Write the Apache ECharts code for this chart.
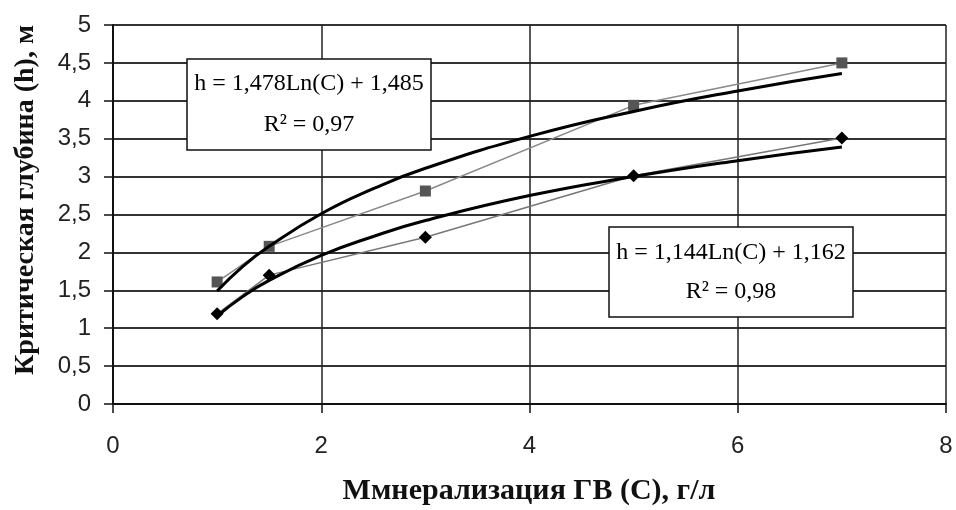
<!DOCTYPE html>
<html><head><meta charset="utf-8">
<script src="https://cdn.jsdelivr.net/npm/echarts@6/dist/echarts.min.js"></script>
<style>html,body{margin:0;padding:0;background:#fff}#c{width:956px;height:510px}</style>
</head><body><div id="c"></div>
<script>
// Measured data (C, g/l)
const xPoints = [1, 1.5, 3, 5, 7];
const depthSeriesA = [1.61, 2.08, 2.81, 3.94, 4.5];   // squares
const depthSeriesB = [1.19, 1.70, 2.20, 3.01, 3.51];  // diamonds
// Trend lines
const trendX = [1, 1.25, 1.5, 2, 2.5, 3, 4, 5, 6, 7];
const trendA = [1.49, 1.82, 2.08, 2.51, 2.84, 3.11, 3.53, 3.86, 4.13, 4.36];
const trendB = [1.16, 1.42, 1.63, 1.96, 2.21, 2.42, 2.75, 3.00, 3.21, 3.39];
const eqA = ['h = 1,478Ln(C) + 1,485', 'R\u00b2 = 0,97'];
const eqB = ['h = 1,144Ln(C) + 1,162', 'R\u00b2 = 0,98'];
const xTitle = 'Ммнерализация ГВ (С), г/л';
const yTitle = 'Критическая глубина (h), м';

const pair = (xs, ys) => xs.map((x, i) => [x, ys[i]]);
const serif = '"Liberation Serif", "Times New Roman", serif';
const sans = '"Liberation Sans", Arial, sans-serif';

function box(l, t, r, b, lines, y1, y2) {
  return [
    {type: 'rect', shape: {x: l, y: t, width: r - l, height: b - t},
     style: {fill: '#fff', stroke: '#111', lineWidth: 1.5}, z: 100},
    {type: 'text', x: (l + r) / 2, y: y1, z: 101,
     style: {text: lines[0], font: '24px ' + serif, fill: '#000', align: 'center', verticalAlign: 'middle'}},
    {type: 'text', x: (l + r) / 2, y: y2, z: 101,
     style: {text: lines[1], font: '24px ' + serif, fill: '#000', align: 'center', verticalAlign: 'middle'}}
  ];
}

const chart = echarts.init(document.getElementById('c'), null, {renderer: 'canvas'});
chart.setOption({
  animation: false,
  backgroundColor: '#fff',
  grid: {left: 113, right: 10, top: 25, bottom: 106, containLabel: false},
  xAxis: {
    type: 'value', min: 0, max: 8, interval: 2,
    axisLine: {lineStyle: {color: '#111', width: 2}},
    axisTick: {show: true, length: 9, lineStyle: {color: '#111', width: 1.5}},
    axisLabel: {fontFamily: sans, fontSize: 24, color: '#222', margin: 30},
    splitLine: {show: true, lineStyle: {color: '#222', width: 1.5}}
  },
  yAxis: {
    type: 'value', min: 0, max: 5, interval: 0.5,
    axisLine: {show: true, lineStyle: {color: '#111', width: 2}},
    axisTick: {show: true, length: 9, lineStyle: {color: '#111', width: 1.5}},
    axisLabel: {fontFamily: sans, fontSize: 24, color: '#222', margin: 22,
      formatter: v => String(v).replace('.', ',')},
    splitLine: {show: true, lineStyle: {color: '#333', width: 2}}
  },
  series: [
    {type: 'line', data: pair(xPoints, depthSeriesA), symbol: 'rect', symbolSize: 11,
     lineStyle: {color: '#8a8a8a', width: 1.5}, itemStyle: {color: '#555'}, z: 3},
    {type: 'line', data: pair(xPoints, depthSeriesB), symbol: 'diamond', symbolSize: 13,
     lineStyle: {color: '#777', width: 1.5}, itemStyle: {color: '#000'}, z: 3},
    {type: 'line', data: pair(trendX, trendA), smooth: true, showSymbol: false, symbol: 'none',
     lineStyle: {color: '#000', width: 3}, z: 4},
    {type: 'line', data: pair(trendX, trendB), smooth: true, showSymbol: false, symbol: 'none',
     lineStyle: {color: '#000', width: 3}, z: 4}
  ],
  graphic: [
    ...box(187, 59, 431, 150, eqA, 84, 125),
    ...box(609, 227, 853, 317, eqB, 253, 292),
    {type: 'text', x: 529, y: 491,
     style: {text: xTitle, font: 'bold 30px ' + serif, fill: '#111', align: 'center', verticalAlign: 'middle'}},
    {type: 'text', x: 26, y: 200, rotation: Math.PI / 2,
     style: {text: yTitle, font: 'bold 28px ' + serif, fill: '#111', align: 'center', verticalAlign: 'middle'}}
  ]
});
</script></body></html>
